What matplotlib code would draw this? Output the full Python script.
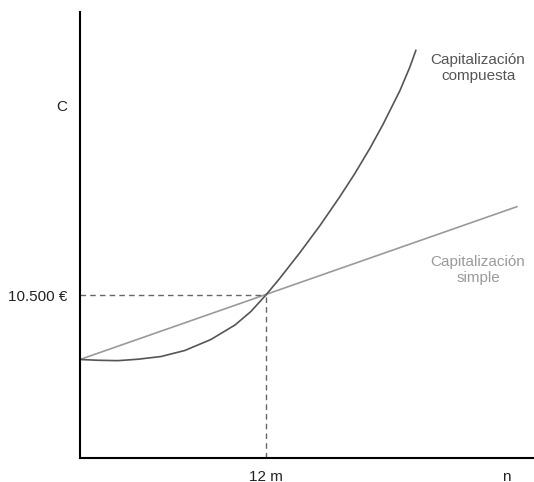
import matplotlib
matplotlib.use('Agg')
import matplotlib.pyplot as plt

plt.rcParams['font.family'] = ['Liberation Sans', 'DejaVu Sans']

# meses
n_compuesta = [0.0, 1.16, 2.45, 3.74, 5.23, 6.77, 8.45, 10.0, 11.03, 12.0,
               12.90, 14.19, 15.48, 16.77, 17.74, 18.71, 19.55, 20.65, 21.29, 21.68]
# capital
c_compuesta = [10000, 9994, 9991, 10002, 10023, 10070, 10155, 10267, 10372, 10500,
               10630, 10828, 11037, 11262, 11442, 11637, 11821, 12085, 12267, 12397]

n_simple = [0, 28.2]
c_simple = [10000, 11185]

n_cruce = 12
c_cruce = 10500

fig = plt.figure(figsize=(5.34, 4.82), dpi=100)
ax = fig.add_axes([0.1498, 0.0498, 0.850, 0.925])

ax.plot(n_simple, c_simple, color='#9a9a9a', lw=1.2)
ax.plot(n_compuesta, c_compuesta, color='#555555', lw=1.2)

# lineas de referencia
ax.plot([0, n_cruce], [c_cruce, c_cruce], color='#666666', lw=1, ls=(0, (4, 3)))
ax.plot([n_cruce, n_cruce], [9236, c_cruce], color='#666666', lw=1, ls=(0, (4, 3)))

ax.set_xlim(0, 29.3)
ax.set_ylim(9236, 12694)

for s in ['top', 'right']:
    ax.spines[s].set_visible(False)
ax.spines['left'].set_linewidth(1.5)
ax.spines['bottom'].set_linewidth(1.5)

ax.set_xticks([n_cruce, 27.5], ['12 m', 'n'])
ax.set_yticks([c_cruce], ['10.500 €'])
ax.tick_params(axis='x', length=0, pad=9, labelsize=11, labelcolor='#222222')
ax.tick_params(axis='y', length=0, pad=9, labelsize=11, labelcolor='#222222')

ax.text(-1.16, 11957, 'C', ha='center', va='center', fontsize=11, color='#222222', clip_on=False)

ax.text(25.7, 12260, 'Capitalización\ncompuesta', ha='center', va='center',
        fontsize=11, color='#555555', linespacing=1.15)
ax.text(25.7, 10694, 'Capitalización\nsimple', ha='center', va='center',
        fontsize=11, color='#9a9a9a', linespacing=1.15)

fig.savefig('out.png', dpi=100)
